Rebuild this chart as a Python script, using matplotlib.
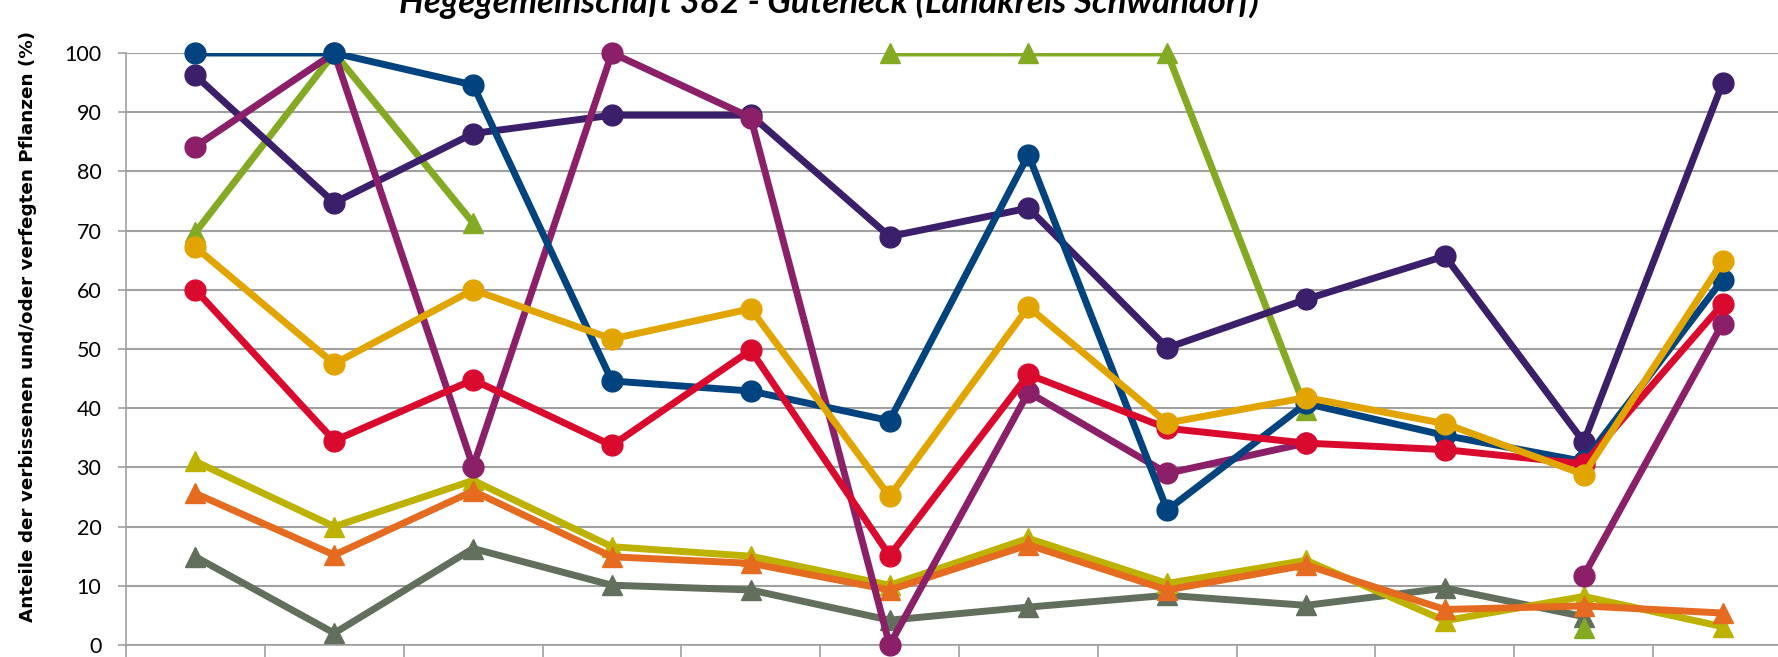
import numpy as np
import matplotlib
matplotlib.use("Agg")
import matplotlib.pyplot as plt

nan = np.nan

# 12 categories (x labels are cut off in the reference)
n_cat = 12
y_ticks = list(range(0, 101, 10))

title = "Hegegemeinschaft 382 - Guteneck (Landkreis Schwandorf)"
ylabel = "Anteile der verbissenen und/oder verfegten Pflanzen (%)"

# series values (%), nan = no value
gray = [14.9, 2.0, 16.3, 10.1, 9.3, 4.2, 6.4, 8.4, 6.7, 9.6, 4.8, nan]
olive = [31.0, 20.0, 27.8, 16.6, 15.0, 10.1, 18.0, 10.4, 14.3, 4.1, 8.2, 3.1]
orange = [25.6, 15.2, 26.0, 14.9, 13.8, 9.3, 16.9, 9.3, 13.5, 6.0, 6.6, 5.4]
green = [69.7, 100, 71.3, nan, nan, 100, 100, 100, 39.7, nan, 2.9, nan]
darkpurple = [96.2, 74.7, 86.4, 89.5, 89.5, 69.0, 73.8, 50.2, 58.4, 65.7, 34.3, 94.9]
magenta = [84.2, 100, 30.1, 100, 89.1, 0.0, 42.7, 29.0, 34.1, nan, 11.7, 54.3]
blue = [100, 100, 94.6, 44.6, 42.9, 37.9, 82.8, 22.8, 40.8, 35.4, 31.0, 61.7]
red = [60.0, 34.5, 44.8, 33.7, 49.8, 15.1, 45.7, 36.6, 34.1, 33.0, 30.6, 57.6]
yellow = [67.2, 47.5, 60.0, 51.7, 56.8, 25.1, 57.1, 37.5, 41.8, 37.4, 28.8, 64.8]

# drawing order bottom -> top
series = [
    (gray, "#626F5C", "^"),
    (olive, "#BDB200", "^"),
    (orange, "#E56B20", "^"),
    (green, "#84AA24", "^"),
    (darkpurple, "#3B1F6A", "o"),
    (magenta, "#8B2068", "o"),
    (blue, "#00437F", "o"),
    (red, "#DA0A2F", "o"),
    (yellow, "#E2A500", "o"),
]

W, H = 1778, 657
fig = plt.figure(figsize=(W / 100, H / 100), dpi=100)
# plot area runs past the right edge of the picture (cropped chart)
left, right, top, bottom = 126, 1792, 53, 645
ax = fig.add_axes([left / W, (H - bottom) / H, (right - left) / W, (bottom - top) / H])

x = np.arange(n_cat) + 0.5
for k, (vals, col, mk) in enumerate(series):
    v = np.array(vals, dtype=float)
    ax.plot(x, v, color=col, lw=5.0, solid_capstyle="butt", zorder=3 + k)
    ms = 15 if mk == "o" else 14.2
    ax.plot(x, v, ls="none", marker=mk, ms=ms, color=col, mec=col,
            clip_on=False, zorder=3 + k)

ax.set_xlim(0, n_cat)
ax.set_ylim(0, 100)
ax.set_yticks(y_ticks)
ax.set_xticks(range(n_cat + 1))
ax.set_xticklabels([])
ax.yaxis.grid(True, color="#A0A0A0", lw=1.5)
ax.set_axisbelow(True)
for s in ["top", "right"]:
    ax.spines[s].set_visible(False)
for s in ["left", "bottom"]:
    ax.spines[s].set_color("#A0A0A0")
    ax.spines[s].set_linewidth(1.2)
ax.tick_params(axis="y", length=5.8, width=1.2, color="#A0A0A0", pad=12, labelsize=15.5)
ax.tick_params(axis="x", length=9, width=1.2, color="#A0A0A0", direction="out")
for lab in ax.get_yticklabels():
    lab.set_family("Lato")

fig.text(829 / W, 1 - 12.7 / H, title, ha="center", va="baseline",
         fontsize=25, fontweight="bold", fontstyle="italic", family="Lato")
fig.text(28 / W, 1 - 326 / H, ylabel, ha="center", va="center", rotation=90,
         fontsize=13.2, fontweight="bold", family="DejaVu Sans")

fig.savefig("out.png", dpi=100)
